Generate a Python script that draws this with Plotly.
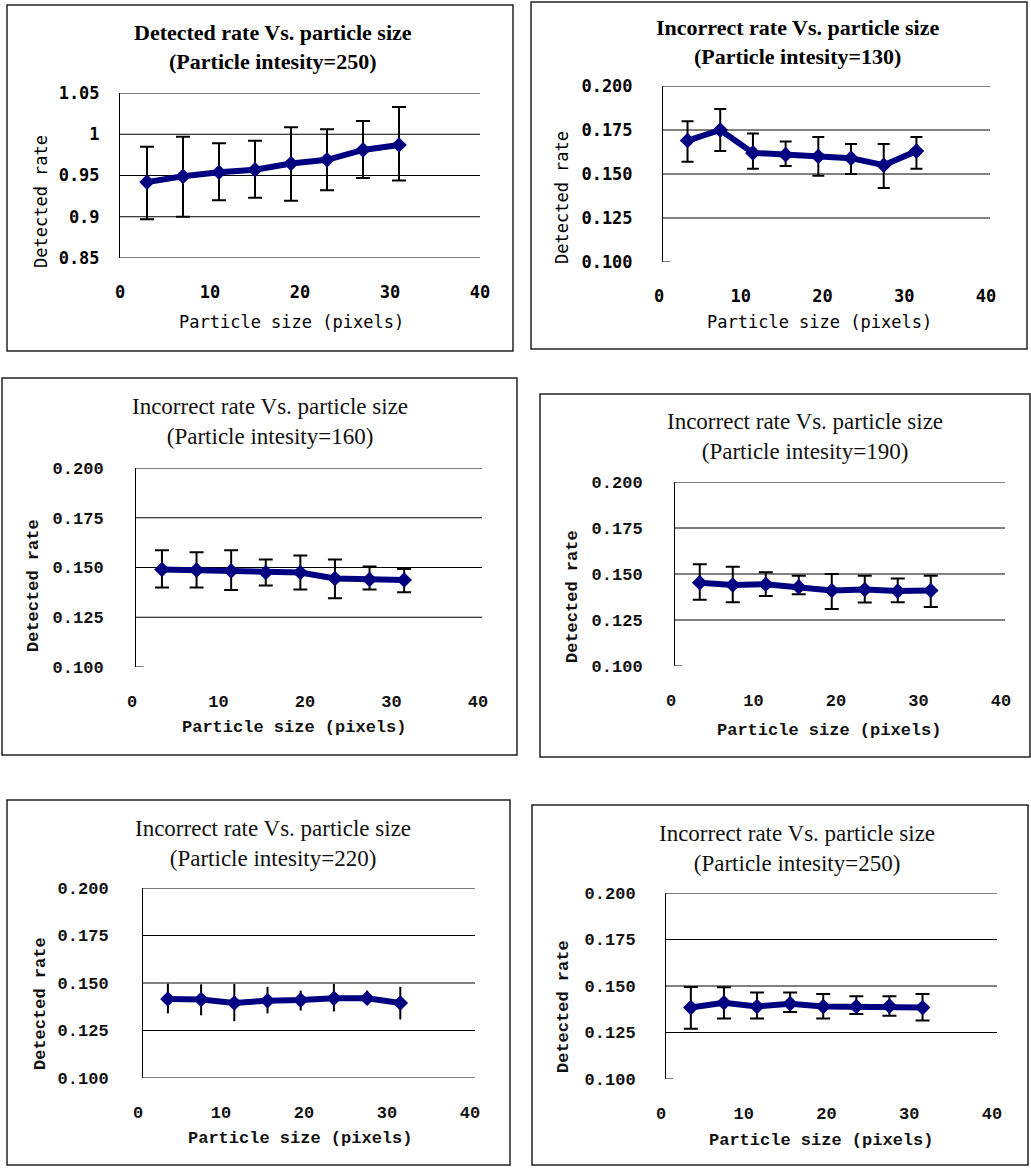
import plotly.graph_objects as go

W, H = 1031, 1169

# Particle sizes (pixels) at which each rate was measured
sizes = [3, 7, 11, 15, 19, 23, 27, 31]

# Detected rate, intensity 250
det_250 = [0.942, 0.949, 0.954, 0.957, 0.9645, 0.969, 0.981, 0.987]
det_250_up = [0.043, 0.048, 0.035, 0.035, 0.044, 0.037, 0.035, 0.046]
det_250_dn = [0.045, 0.049, 0.034, 0.034, 0.045, 0.037, 0.034, 0.043]

# Incorrect rate per particle intensity
inc_130 = [0.169, 0.175, 0.162, 0.161, 0.160, 0.159, 0.155, 0.163]
inc_130_up = [0.011, 0.012, 0.011, 0.0075, 0.011, 0.008, 0.012, 0.008]
inc_130_dn = [0.012, 0.012, 0.009, 0.0065, 0.011, 0.009, 0.013, 0.010]

inc_160 = [0.149, 0.1487, 0.1483, 0.1475, 0.1475, 0.1445, 0.144, 0.1437]
inc_160_up = [0.0097, 0.009, 0.0104, 0.0065, 0.0085, 0.0095, 0.0065, 0.0056]
inc_160_dn = [0.009, 0.0087, 0.0096, 0.0065, 0.0085, 0.010, 0.005, 0.0062]

inc_190 = [0.1453, 0.144, 0.1444, 0.143, 0.141, 0.1416, 0.1407, 0.141]
inc_190_up = [0.010, 0.010, 0.0066, 0.006, 0.009, 0.0074, 0.0068, 0.008]
inc_190_dn = [0.0093, 0.0093, 0.0064, 0.004, 0.010, 0.0071, 0.006, 0.009]

inc_220 = [0.1416, 0.1413, 0.1395, 0.1407, 0.141, 0.142, 0.142, 0.1395]
inc_220_up = [0.008, 0.008, 0.010, 0.0073, 0.005, 0.0075, 0.004, 0.0085]
inc_220_dn = [0.0076, 0.0083, 0.0096, 0.0067, 0.0055, 0.007, 0.0034, 0.0087]

inc_250 = [0.1384, 0.141, 0.139, 0.1405, 0.139, 0.139, 0.1392, 0.1384]
inc_250_up = [0.011, 0.0083, 0.0075, 0.006, 0.0067, 0.0055, 0.0053, 0.0073]
inc_250_dn = [0.0114, 0.0085, 0.0065, 0.0045, 0.0065, 0.004, 0.0052, 0.0069]

# Axis ticks
x_ticks = [0, 10, 20, 30, 40]
det_ticks = [0.85, 0.9, 0.95, 1.0, 1.05]
det_ticktext = ["0.85", "0.9", "0.95", "1", "1.05"]
inc_ticks = [0.100, 0.125, 0.150, 0.175, 0.200]
inc_ticktext = ["0.100", "0.125", "0.150", "0.175", "0.200"]

title_det = "Detected rate Vs. particle size"
title_inc = "Incorrect rate Vs. particle size"
intensities = [250, 130, 160, 190, 220, 250]
x_title = "Particle size (pixels)"
y_title = "Detected rate"

NAVY = "#000080"

# Panel layout in pixels: frame box, plot area, text positions
panels = [
    dict(y=det_250, up=det_250_up, dn=det_250_dn, title=title_det, ticks=det_ticks,
         ticktext=det_ticktext, bottom_grid=True, cap=7, top=True,
         box=(7, 5, 513, 351), area=(120, 93, 480, 258),
         ttl=(273, 47), xt=(291, 322), yt=(41, 202), ystand=16, xshift=0),
    dict(y=inc_130, up=inc_130_up, dn=inc_130_dn, title=title_inc, ticks=inc_ticks,
         ticktext=inc_ticktext, bottom_grid=False, cap=6, top=True,
         box=(531, 2, 1027, 349), area=(663, 86, 990, 262),
         ttl=(797, 42), xt=(819, 322), yt=(562, 198), ystand=26, xshift=-4),
    dict(y=inc_160, up=inc_160_up, dn=inc_160_dn, title=title_inc, ticks=inc_ticks,
         ticktext=inc_ticktext, bottom_grid=False, cap=7, top=False,
         box=(2, 378, 517, 755), area=(136, 468, 482, 667),
         ttl=(270, 421), xt=(294, 727), yt=(33, 586), ystand=28, xshift=-4),
    dict(y=inc_190, up=inc_190_up, dn=inc_190_dn, title=title_inc, ticks=inc_ticks,
         ticktext=inc_ticktext, bottom_grid=False, cap=7, top=False,
         box=(540, 394, 1030, 757), area=(675, 482, 1005, 666),
         ttl=(805, 436), xt=(829, 730), yt=(572, 597), ystand=28, xshift=-4),
    dict(y=inc_220, up=inc_220_up, dn=inc_220_dn, title=title_inc, ticks=inc_ticks,
         ticktext=inc_ticktext, bottom_grid=True, cap=0, top=False,
         box=(7, 800, 510, 1165), area=(143, 888, 475, 1078),
         ttl=(273, 843), xt=(300, 1138), yt=(40, 1004), ystand=30, xshift=-5),
    dict(y=inc_250, up=inc_250_up, dn=inc_250_dn, title=title_inc, ticks=inc_ticks,
         ticktext=inc_ticktext, bottom_grid=False, cap=7, top=False,
         box=(532, 805, 1028, 1165), area=(666, 893, 997, 1079),
         ttl=(797, 848), xt=(821, 1140), yt=(563, 1007), ystand=26, xshift=-5),
]


def px(x):
    return x / W


def py(y):
    return 1 - y / H


fig = go.Figure()
layout = dict(width=W, height=H, margin=dict(l=0, r=0, t=0, b=0, autoexpand=False),
              paper_bgcolor="white", plot_bgcolor="white", showlegend=False,
              shapes=[], annotations=[])

for i, p in enumerate(panels):
    n = i + 1
    sfx = "" if n == 1 else str(n)
    xa, ya = "x" + sfx, "y" + sfx
    x0, y0, x1, y1 = p["area"]

    if p["top"]:
        tick_font = dict(family="DejaVu Sans Mono", size=17, color="black", weight="bold")
        lab_font = dict(family="DejaVu Sans Mono", size=17, color="black")
        ttl_font = dict(family="Liberation Serif", size=22, color="black")
        ttl_text = "<b>%s<br>(Particle intesity=%d)</b>" % (p["title"], intensities[i])
        xt_text, yt_text = x_title, y_title
    else:
        tick_font = dict(family="Liberation Mono", size=17, color="#111", weight="bold")
        lab_font = dict(family="Liberation Mono", size=17, color="#111", weight="bold")
        ttl_font = dict(family="Liberation Serif", size=23, color="#111")
        ttl_text = "%s<br>(Particle intesity=%d)" % (p["title"], intensities[i])
        xt_text, yt_text = "<b>%s</b>" % x_title, "<b>%s</b>" % y_title

    fig.add_trace(go.Scatter(
        x=sizes, y=p["y"], xaxis=xa, yaxis=ya, mode="lines+markers",
        line=dict(color=NAVY, width=6),
        marker=dict(symbol="diamond", size=12, color=NAVY),
        error_y=dict(type="data", symmetric=False, array=p["up"], arrayminus=p["dn"],
                     color="black", thickness=2, width=p["cap"]),
    ))

    lo, hi = p["ticks"][0], p["ticks"][-1]
    layout["xaxis" + sfx] = dict(
        domain=[px(x0), px(x1)], range=[0, 40], anchor=ya, automargin=False,
        tickvals=x_ticks, showgrid=False, zeroline=False, showline=False,
        ticks="", ticklabelstandoff=22, ticklabelshift=p["xshift"],
        tickfont=tick_font, fixedrange=True,
    )
    layout["yaxis" + sfx] = dict(
        domain=[py(y1), py(y0)], range=[lo, hi], anchor=xa, automargin=False,
        tickvals=p["ticks"], ticktext=p["ticktext"], showgrid=False, zeroline=False,
        showline=True, linecolor="black", linewidth=1, ticks="",
        ticklabelstandoff=p["ystand"], tickfont=tick_font, fixedrange=True,
    )

    # Horizontal gridlines
    grid_vals = p["ticks"] if p["bottom_grid"] else p["ticks"][1:]
    for v in grid_vals:
        layout["shapes"].append(dict(
            type="line", xref=xa + " domain", yref=ya, x0=0, x1=1, y0=v, y1=v,
            line=dict(color="black", width=1), layer="below"))
    if not p["bottom_grid"]:
        layout["shapes"].append(dict(
            type="line", xref=xa + " domain", yref=ya, x0=0, x1=0.022, y0=lo, y1=lo,
            line=dict(color="black", width=1), layer="below"))

    # Frame around the panel
    bx0, by0, bx1, by1 = p["box"]
    layout["shapes"].append(dict(
        type="rect", xref="paper", yref="paper",
        x0=px(bx0), x1=px(bx1), y0=py(by1), y1=py(by0),
        line=dict(color="#222", width=1.5), fillcolor="rgba(0,0,0,0)"))

    # Title
    layout["annotations"].append(dict(
        text=ttl_text, x=px(p["ttl"][0]), y=py(p["ttl"][1]), xref="paper", yref="paper",
        xanchor="center", yanchor="middle", showarrow=False, font=ttl_font,
        align="center"))
    # Axis titles
    layout["annotations"].append(dict(
        text=xt_text, x=px(p["xt"][0]), y=py(p["xt"][1]), xref="paper", yref="paper",
        xanchor="center", yanchor="middle", showarrow=False, font=lab_font))
    layout["annotations"].append(dict(
        text=yt_text, x=px(p["yt"][0]), y=py(p["yt"][1]), xref="paper", yref="paper",
        xanchor="center", yanchor="middle", showarrow=False, font=lab_font,
        textangle=-90))

fig.update_layout(**layout)
fig.write_html("out.html", post_script="document.body.style.margin='0';")
